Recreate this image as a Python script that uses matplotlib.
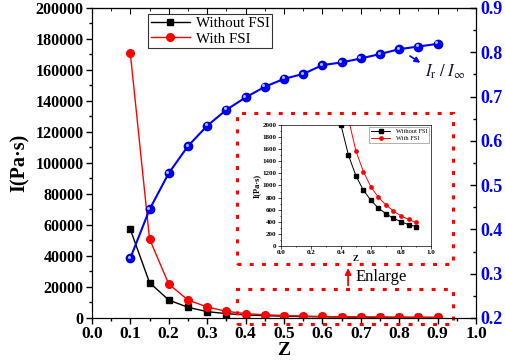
import matplotlib
matplotlib.use("Agg")
import matplotlib.pyplot as plt
from matplotlib.patches import Rectangle
from matplotlib.ticker import MultipleLocator
import matplotlib.transforms as mtransforms

z = [0.10, 0.15, 0.20, 0.25, 0.30, 0.35, 0.40, 0.45, 0.50, 0.55, 0.60,
     0.65, 0.70, 0.75, 0.80, 0.85, 0.90]
without_fsi = [57200, 22800, 11600, 6900, 4100, 2800, 2000, 1500, 1160, 920,
               756, 625, 537, 460, 405, 356, 325]
with_fsi = [170800, 51000, 21900, 11600, 7100, 4300, 2800, 2100, 1567, 1227,
            975, 805, 680, 581, 499, 444, 392]
ratio = [0.335, 0.445, 0.527, 0.588, 0.634, 0.670, 0.698, 0.722, 0.740,
         0.751, 0.771, 0.777, 0.786, 0.796, 0.807, 0.813, 0.819]

plt.rcParams['font.family'] = ['Liberation Serif', 'DejaVu Serif']
plt.rcParams['mathtext.fontset'] = 'stix'

fig = plt.figure(figsize=(5.05, 3.63), dpi=100)
ax = fig.add_axes([0.182, 0.124, 0.7606, 0.854])
ax2 = ax.twinx()

ax.plot(z, without_fsi, color='black', lw=1.0, marker='s', ms=5,
        label='Without FSI', zorder=3)
ax.plot(z, with_fsi, color='#ff0000', lw=1.0, marker='o', ms=5.5,
        label='With FSI', zorder=3)

ax.set_xlim(0, 1.0)
ax.set_ylim(0, 200000)
ax.xaxis.set_major_locator(MultipleLocator(0.1))
ax.xaxis.set_minor_locator(MultipleLocator(0.05))
ax.yaxis.set_major_locator(MultipleLocator(20000))
ax.yaxis.set_minor_locator(MultipleLocator(10000))
ax.tick_params(axis='both', which='major', direction='out', length=4, width=1)
ax.tick_params(axis='both', which='minor', direction='out', length=2.5, width=1)
ax.tick_params(axis='y', labelsize=11.5, pad=2)
ax.tick_params(axis='x', labelsize=12.5, pad=2)
ax.set_xticks([i / 10 for i in range(11)])
ax.set_xticklabels([f'{i / 10:.1f}' for i in range(11)], fontweight='bold')
ax.set_yticks(list(range(0, 200001, 20000)))
ax.set_yticklabels([str(v) for v in range(0, 200001, 20000)], fontweight='bold')
ax.set_xlim(0, 1.0)
ax.set_ylim(0, 200000)

secx = ax.secondary_xaxis('top')
secx.xaxis.set_major_locator(MultipleLocator(0.1))
secx.xaxis.set_minor_locator(MultipleLocator(0.05))
secx.tick_params(which='major', direction='in', length=4, labeltop=False)
secx.tick_params(which='minor', direction='in', length=2.5)

ax.set_xlabel('Z', fontsize=14, fontweight='bold', labelpad=0)
ax.set_ylabel('I(Pa·s)', fontsize=14.5, fontweight='bold', labelpad=4)

# Blue ratio series with sphere-like highlight
ax2.plot(z, ratio, color='#0000ff', lw=1.5, marker='o', ms=6,
         markeredgecolor='#0000cc', zorder=3)
offset = mtransforms.ScaledTranslation(-1.0/72, 1.0/72, fig.dpi_scale_trans)
ax2.plot(z, ratio, ls='none', marker='o', ms=2.2, color='#a8b8ff',
         markeredgewidth=0, transform=ax2.transData + offset, zorder=4)
ax2.set_ylim(0.2, 0.9)
ax2.set_yticks([0.2 + i / 10 for i in range(8)])
ax2.set_yticklabels([f'{0.2 + i / 10:.1f}' for i in range(8)], fontweight='bold')
ax2.yaxis.set_minor_locator(MultipleLocator(0.05))
ax2.tick_params(axis='y', which='major', direction='in', length=4, width=1,
                labelsize=13, labelcolor='#0000ff', pad=3)
ax2.tick_params(axis='y', which='minor', direction='in', length=2.5, width=1)
ax2.set_ylim(0.2, 0.9)

ax2.annotate('', xy=(0.861, 0.773), xytext=(0.822, 0.795),
             arrowprops=dict(arrowstyle='-|>', color='#0000ff', lw=1.2,
                             mutation_scale=8))
ax2.text(0.866, 0.757, r'$I_{\rm r}\ /\ I_{\infty}$', fontsize=12,
         color='#111133', ha='left', va='center')

leg = ax.legend(loc='upper left', bbox_to_anchor=(0.135, 0.995), fontsize=10.8,
                frameon=True, fancybox=False, borderpad=0.15, handlelength=2.6,
                handletextpad=0.4, labelspacing=0.15, borderaxespad=0.3)
leg.get_frame().set_edgecolor('black')
leg.get_frame().set_linewidth(0.8)
leg.set_zorder(10)

# Red dotted rectangles and arrow
dot = dict(fill=False, edgecolor='#ff0000', lw=2.2, ls=(0, (1.3, 2.7)),
           clip_on=False, zorder=5)
ax.add_patch(Rectangle((0.378, 34650), 0.561, 97600, **dot))
ax.add_patch(Rectangle((0.378, -3870), 0.561, 22770, **dot))
ax.annotate('', xy=(0.667, 34000), xytext=(0.667, 19200),
            arrowprops=dict(arrowstyle='-|>', color='#ff0000', lw=1.3,
                            mutation_scale=9))
ax.text(0.685, 26650, 'Enlarge', fontsize=12, ha='left', va='center')

# Inset
axi = fig.add_axes([0.556, 0.3215, 0.2976, 0.335])
axi.plot(z, without_fsi, color='black', lw=0.7, marker='s', ms=2.2,
         label='Without FSI')
axi.plot(z, with_fsi, color='#ff0000', lw=0.7, marker='o', ms=2.4,
         label='With FSI')
axi.set_xticks([i / 5 for i in range(6)])
axi.set_xticklabels([f'{i / 5:.1f}' for i in range(6)], fontweight='bold')
axi.set_yticks(list(range(0, 2001, 200)))
axi.set_yticklabels([str(v) for v in range(0, 2001, 200)], fontweight='bold')
axi.xaxis.set_minor_locator(MultipleLocator(0.1))
axi.yaxis.set_minor_locator(MultipleLocator(100))
axi.tick_params(which='major', direction='out', length=2, width=0.5,
                labelsize=5, pad=1)
axi.tick_params(which='minor', direction='out', length=1, width=0.5)
axi.set_xlim(0, 1.0)
axi.set_ylim(0, 2000)
for s in axi.spines.values():
    s.set_linewidth(0.5)
axi.set_xlabel('Z', fontsize=6.5, fontweight='bold', labelpad=0)
axi.set_ylabel('I(Pa·s)', fontsize=6, fontweight='bold', labelpad=1)
li = axi.legend(loc='upper right', fontsize=4.6, frameon=True, fancybox=False,
                borderpad=0.3, handlelength=3, labelspacing=0.3,
                borderaxespad=0.3)
li.get_frame().set_edgecolor('#555555')
li.get_frame().set_linewidth(0.4)

fig.savefig('out.png', dpi=100)
